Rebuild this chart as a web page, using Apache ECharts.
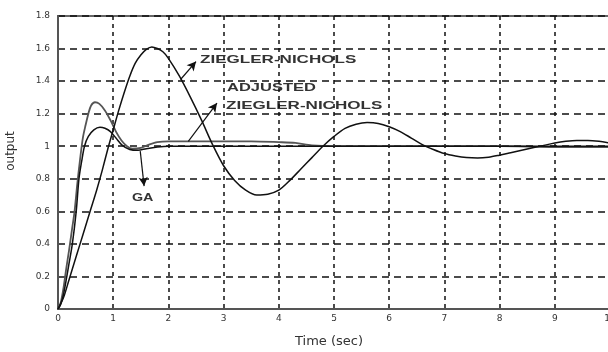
<!DOCTYPE html>
<html>
<head>
<meta charset="utf-8">
<script src="https://cdn.jsdelivr.net/npm/echarts@6/dist/echarts.min.js"></script>
<style>
  html, body { margin: 0; padding: 0; background: #fff; }
  #chart { width: 608px; height: 352px; }
</style>
</head>
<body>
<div id="chart"></div>
<script>
// tick labels
const xTickLabels = ['0', '1', '2', '3', '4', '5', '6', '7', '8', '9', '10'];
const yTickLabels = ['0', '0.2', '0.4', '0.6', '0.8', '1', '1.2', '1.4', '1.6', '1.8'];

// Ziegler-Nichols step response
const znTime = [0, 0.1, 0.2, 0.3, 0.4, 0.5, 0.6, 0.7, 0.8, 0.9, 1.0, 1.1, 1.2, 1.3, 1.4, 1.5, 1.6, 1.7, 1.8, 1.9,
  2.0, 2.2, 2.4, 2.6, 2.8, 3.0, 3.2, 3.4, 3.6, 3.8, 4.0, 4.2, 4.4, 4.6, 4.8, 5.0, 5.2, 5.4, 5.6, 5.8,
  6.0, 6.2, 6.4, 6.6, 6.8, 7.0, 7.2, 7.4, 7.6, 7.8, 8.0, 8.2, 8.4, 8.6, 8.8, 9.0, 9.2, 9.4, 9.6, 9.8, 10];
const znOutput = [0, 0.07, 0.18, 0.29, 0.40, 0.51, 0.62, 0.73, 0.85, 0.98, 1.10, 1.22, 1.33, 1.43, 1.51, 1.56, 1.595, 1.61, 1.60, 1.58,
  1.54, 1.43, 1.30, 1.16, 1.01, 0.88, 0.79, 0.73, 0.70, 0.705, 0.73, 0.79, 0.86, 0.93, 1.00, 1.06, 1.11, 1.135, 1.145, 1.14,
  1.12, 1.09, 1.05, 1.01, 0.98, 0.955, 0.94, 0.93, 0.927, 0.932, 0.945, 0.96, 0.975, 0.99, 1.005, 1.02, 1.03, 1.035, 1.035, 1.03, 1.02];

// adjusted Ziegler-Nichols
const adjTime = [0, 0.05, 0.1, 0.15, 0.2, 0.25, 0.3, 0.35, 0.4, 0.45, 0.5, 0.55, 0.6, 0.67, 0.75, 0.85, 0.95, 1.05, 1.15, 1.25,
  1.35, 1.5, 1.65, 1.8, 2.0, 2.5, 3.0, 3.5, 4.0, 4.3, 4.6, 5.0, 6, 7, 8, 9, 10];
const adjOutput = [0, 0.04, 0.13, 0.25, 0.36, 0.48, 0.60, 0.77, 0.92, 1.05, 1.13, 1.20, 1.25, 1.27, 1.26, 1.22, 1.16, 1.09, 1.035, 1.0,
  0.985, 0.99, 1.01, 1.025, 1.03, 1.03, 1.03, 1.03, 1.025, 1.02, 1.005, 1.0, 1.0, 1.0, 1.0, 0.995, 0.995];

// GA tuned
const gaTime = [0, 0.05, 0.1, 0.16, 0.2, 0.26, 0.33, 0.38, 0.43, 0.48, 0.55, 0.65, 0.76, 0.85, 0.95, 1.05, 1.16, 1.3, 1.45, 1.6,
  1.8, 2.0, 3, 4, 5, 6, 7, 8, 9, 10];
const gaOutput = [0, 0.03, 0.09, 0.2, 0.28, 0.4, 0.6, 0.8, 0.91, 1.0, 1.06, 1.10, 1.116, 1.11, 1.09, 1.05, 1.007, 0.98, 0.975, 0.985,
  0.995, 1.0, 1.0, 1.0, 1.0, 1.0, 1.0, 1.0, 1.0, 1.0];

// annotation arrows (from curve to label), data coords
const znArrow = [[2.22, 1.41], [2.50, 1.52]];
const adjArrow = [[2.36, 1.03], [2.88, 1.265]];
const gaArrow = [[1.49, 0.97], [1.56, 0.755]];

const zip = (t, v) => t.map((x, i) => [x, v[i]]);

const arrowLine = (pts) => ({
  silent: true,
  symbol: ['none', 'arrow'],
  symbolSize: [7, 9],
  label: { show: false },
  lineStyle: { type: 'solid', color: '#111', width: 1.2 },
  data: [[{ coord: pts[0] }, { coord: pts[1] }]]
});

const curve = (name, t, v, color, width, arrow) => ({
  name,
  type: 'line',
  data: zip(t, v),
  smooth: 0.3,
  showSymbol: false,
  symbol: 'none',
  lineStyle: { color, width },
  markLine: arrowLine(arrow)
});

const txt = { fill: '#333', font: 'bold 11px "Liberation Sans"' };

const myChart = echarts.init(document.getElementById('chart'));
const option = {
  animation: false,
  backgroundColor: '#fff',
  grid: {
    left: 58, right: -2, top: 16, bottom: 43,
    outerBoundsMode: 'none',
    show: true, borderColor: '#666', borderWidth: 2, backgroundColor: 'transparent'
  },
  xAxis: {
    type: 'value', min: 0, max: 10, interval: 1,
    name: 'Time (sec)', nameLocation: 'middle', nameGap: 26,
    nameTextStyle: { fontFamily: 'DejaVu Sans', fontSize: 13, color: '#333', padding: [0, 10, 0, 0] },
    axisLine: { lineStyle: { color: '#555', width: 2 } },
    axisTick: { show: false },
    axisLabel: { formatter: (v) => xTickLabels[Math.round(v)], margin: 5, fontSize: 9, fontFamily: 'DejaVu Sans', color: '#333' },
    splitLine: { show: true, lineStyle: { type: [4, 4], color: '#111', width: 1.5 } }
  },
  yAxis: {
    type: 'value', min: 0, max: 1.8, interval: 0.2,
    axisLine: { show: true, lineStyle: { color: '#555', width: 2 } },
    axisTick: { show: false },
    axisLabel: { formatter: (v) => yTickLabels[Math.round(v * 5)], margin: 8, fontSize: 9, fontFamily: 'DejaVu Sans', color: '#333' },
    splitLine: { show: true, lineStyle: { type: [7, 5], color: '#111', width: 1.5 } }
  },
  series: [
    curve('ADJUSTED ZIEGLER-NICHOLS', adjTime, adjOutput, '#555', 1.8, adjArrow),
    curve('GA', gaTime, gaOutput, '#111', 1.5, gaArrow),
    curve('ZIEGLER-NICHOLS', znTime, znOutput, '#111', 1.5, znArrow)
  ],
  graphic: [
    { type: 'text', left: 200, top: 54, style: Object.assign({ text: 'ZIEGLER-NICHOLS' }, txt), scaleX: 1.55 },
    { type: 'text', left: 227, top: 82, style: Object.assign({ text: 'ADJUSTED' }, txt), scaleX: 1.5 },
    { type: 'text', left: 226, top: 100, style: Object.assign({ text: 'ZIEGLER-NICHOLS' }, txt), scaleX: 1.55 },
    { type: 'text', left: 132, top: 192, style: Object.assign({ text: 'GA' }, txt), scaleX: 1.3 },
    {
      type: 'text', x: 11, y: 151, rotation: Math.PI / 2,
      style: { text: 'output', fill: '#333', font: '12px "DejaVu Sans"', align: 'center', verticalAlign: 'middle' }
    }
  ]
};
myChart.setOption(option);
</script>
</body>
</html>
